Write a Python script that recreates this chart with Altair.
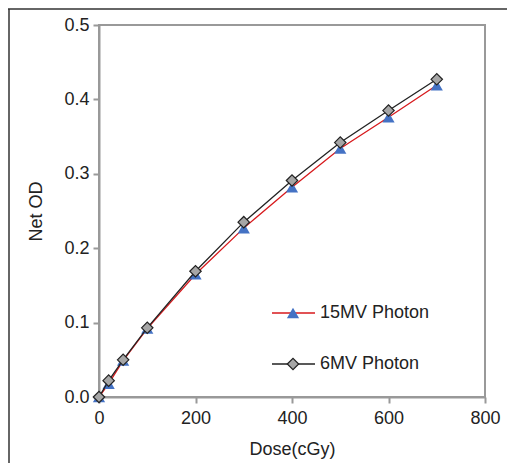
import altair as alt
import pandas as pd

dose = [0, 20, 50, 100, 200, 300, 400, 500, 600, 700]
od_15mv = [0.0, 0.018, 0.049, 0.092, 0.165, 0.227, 0.282, 0.334, 0.376, 0.419]
od_6mv = [0.0, 0.022, 0.050, 0.093, 0.169, 0.235, 0.291, 0.342, 0.385, 0.427]
series_labels = ["15MV Photon", "6MV Photon"]
x_ticks = [0, 200, 400, 600, 800]
y_ticks = [0.0, 0.1, 0.2, 0.3, 0.4, 0.5]

RED = "#d7191c"
BLUE = "#4472c4"
GRAY_FILL = "#a6a6a6"
DARK = "#222222"
AXIS_GRAY = "#999999"
FONT = "Liberation Sans"

df15 = pd.DataFrame({"dose": dose, "od": od_15mv})
df6 = pd.DataFrame({"dose": dose, "od": od_6mv})

W, H = 386, 372

x_enc = alt.X(
    "dose:Q",
    scale=alt.Scale(domain=[0, 800], nice=False),
    axis=alt.Axis(values=x_ticks, title="Dose(cGy)", grid=False, tickSize=6,
                  labelPadding=6, titlePadding=13, format="d", labelFlush=False),
)
y_enc = alt.Y(
    "od:Q",
    scale=alt.Scale(domain=[0, 0.5], nice=False),
    axis=alt.Axis(values=y_ticks, title="Net OD", grid=False, tickSize=6,
                  labelPadding=4, titlePadding=18, format=".1f", labelFlush=False),
)

TRI_SIZE = 150
DIA_SIZE = 130

line15 = alt.Chart(df15).mark_line(color=RED, strokeWidth=1.3).encode(x=x_enc, y=y_enc)
pts15 = alt.Chart(df15).mark_point(shape="triangle-up", filled=True, color=BLUE,
                                   opacity=1, size=TRI_SIZE).encode(x="dose:Q", y="od:Q")
line6 = alt.Chart(df6).mark_line(color=DARK, strokeWidth=1.3).encode(x="dose:Q", y="od:Q")
pts6 = alt.Chart(df6).mark_point(shape="diamond", filled=True, fill=GRAY_FILL,
                                 stroke=DARK, strokeWidth=1.2, opacity=1,
                                 size=DIA_SIZE).encode(x="dose:Q", y="od:Q")

# in-plot legend
leg = pd.DataFrame({"label": [series_labels[0]]})
leg2 = pd.DataFrame({"label": [series_labels[1]]})
ly1, ly2 = 288, 339
lx1, lx2, lsym, ltxt = 173, 216, 194, 221
l_rule1 = alt.Chart(leg).mark_rule(color=RED, strokeWidth=1.3).encode(
    x=alt.value(lx1), x2=alt.value(lx2), y=alt.value(ly1))
l_sym1 = alt.Chart(leg).mark_point(shape="triangle-up", filled=True, color=BLUE,
                                   opacity=1, size=TRI_SIZE).encode(x=alt.value(lsym), y=alt.value(ly1))
l_txt1 = alt.Chart(leg).mark_text(align="left", baseline="middle", fontSize=18,
                                  font=FONT, color=DARK).encode(
    x=alt.value(ltxt), y=alt.value(ly1), text="label:N")
l_rule2 = alt.Chart(leg2).mark_rule(color=DARK, strokeWidth=1.3).encode(
    x=alt.value(lx1), x2=alt.value(lx2), y=alt.value(ly2))
l_sym2 = alt.Chart(leg2).mark_point(shape="diamond", filled=True, fill=GRAY_FILL,
                                    stroke=DARK, strokeWidth=1.2, opacity=1,
                                    size=DIA_SIZE).encode(x=alt.value(lsym), y=alt.value(ly2))
l_txt2 = alt.Chart(leg2).mark_text(align="left", baseline="middle", fontSize=18,
                                   font=FONT, color=DARK).encode(
    x=alt.value(ltxt), y=alt.value(ly2), text="label:N")

# outer figure frame (top and left edges)
PAD = {"left": 91, "top": 17, "right": 22, "bottom": 66}
frame_top = alt.Chart(leg).mark_rule(color="#333333", strokeWidth=1.5).encode(
    x=alt.value(-PAD["left"]), x2=alt.value(W + PAD["right"]), y=alt.value(-PAD["top"] + 1))
frame_left = alt.Chart(leg).mark_rule(color="#333333", strokeWidth=1.5).encode(
    x=alt.value(-PAD["left"] + 1), y=alt.value(-PAD["top"] + 1), y2=alt.value(H + PAD["bottom"]))

chart = alt.layer(
    line15, pts15, line6, pts6,
    l_rule1, l_sym1, l_txt1, l_rule2, l_sym2, l_txt2,
    frame_top, frame_left,
).properties(
    width=W, height=H,
    padding=PAD,
    autosize=alt.AutoSizeParams(type="none"),
).configure_view(
    stroke=AXIS_GRAY, strokeWidth=2,
).configure_axis(
    domainColor=AXIS_GRAY, domainWidth=2, tickColor=AXIS_GRAY, tickWidth=2,
    labelFont=FONT, titleFont=FONT, labelFontSize=18, titleFontSize=18,
    labelColor=DARK, titleColor=DARK, titleFontWeight="normal",
)

chart.save("out.html", embed_options={"renderer": "svg", "actions": False})
